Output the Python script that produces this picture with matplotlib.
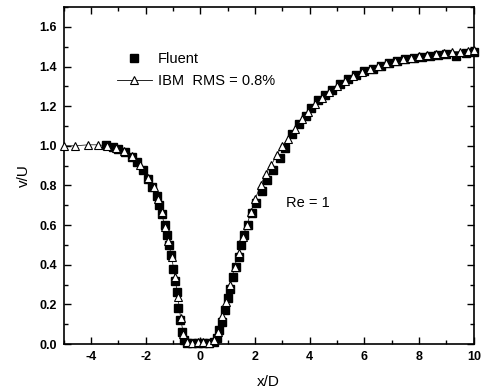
import matplotlib
matplotlib.use('Agg')
import matplotlib.pyplot as plt
from matplotlib.ticker import MultipleLocator
from matplotlib.lines import Line2D

plt.rcParams['font.family'] = ['Liberation Sans', 'DejaVu Sans']
plt.rcParams['axes.unicode_minus'] = False

# IBM results (open triangles)
ibm_x = [-5.0, -4.6, -4.1, -3.75, -3.4, -3.1, -2.8, -2.5, -2.2, -1.9, -1.7, -1.55,
         -1.42, -1.3, -1.18, -1.05, -0.93, -0.82, -0.72, -0.62, -0.5, -0.3, -0.1,
         0.1, 0.3, 0.5, 0.65, 0.8, 0.95, 1.1, 1.25, 1.4, 1.55, 1.7, 1.85, 2.0, 2.2,
         2.4, 2.6, 2.8, 3.0, 3.2, 3.45, 3.7, 3.95, 4.2, 4.45, 4.7, 5.0, 5.3, 5.6,
         5.9, 6.2, 6.5, 6.8, 7.1, 7.4, 7.7, 8.0, 8.3, 8.6, 8.9, 9.2, 9.5, 9.8, 10.0]
ibm_y = [1.00, 1.00, 1.005, 1.005, 1.00, 0.99, 0.975, 0.95, 0.905, 0.84, 0.79, 0.73,
         0.665, 0.59, 0.52, 0.44, 0.34, 0.235, 0.13, 0.05, 0.01, 0.005, 0.01,
         0.01, 0.005, 0.02, 0.06, 0.14, 0.21, 0.30, 0.39, 0.46, 0.54, 0.60, 0.665, 0.73, 0.80,
         0.86, 0.905, 0.955, 1.00, 1.035, 1.085, 1.135, 1.17, 1.21, 1.24, 1.27, 1.30, 1.325, 1.35,
         1.37, 1.39, 1.405, 1.42, 1.43, 1.44, 1.445, 1.455, 1.46, 1.465, 1.47, 1.475, 1.475, 1.48, 1.485]

# Fluent results (filled squares)
fluent_x = [-3.45, -3.2, -3.0, -2.75, -2.5, -2.3, -2.1, -1.9, -1.75, -1.6, -1.5, -1.4,
            -1.3, -1.22, -1.15, -1.08, -1.0, -0.94, -0.87, -0.8, -0.74, -0.68, -0.6,
            -0.5, -0.3, -0.1, 0.1, 0.3, 0.5, 0.6, 0.7, 0.8, 0.9, 1.0, 1.1, 1.2, 1.3,
            1.4, 1.5, 1.6, 1.75, 1.9, 2.05, 2.25, 2.45, 2.65, 2.9, 3.1, 3.35, 3.6, 3.85,
            4.05, 4.3, 4.55, 4.8, 5.1, 5.4, 5.7, 6.0, 6.3, 6.6, 6.9, 7.2, 7.5, 7.8, 8.1,
            8.4, 8.7, 9.0, 9.35, 9.7, 10.0]
fluent_y = [1.005, 0.995, 0.985, 0.97, 0.945, 0.92, 0.88, 0.835, 0.79, 0.745, 0.70, 0.655,
            0.60, 0.55, 0.50, 0.45, 0.38, 0.32, 0.26, 0.18, 0.12, 0.06, 0.02,
            0.005, 0.005, 0.005, 0.005, 0.005, 0.01, 0.03, 0.07, 0.11, 0.17, 0.23, 0.28, 0.34, 0.39,
            0.44, 0.50, 0.55, 0.60, 0.66, 0.71, 0.77, 0.83, 0.88, 0.94, 0.99, 1.06, 1.11, 1.15,
            1.19, 1.23, 1.255, 1.28, 1.31, 1.335, 1.355, 1.375, 1.39, 1.405, 1.42, 1.43, 1.44, 1.445, 1.45,
            1.455, 1.46, 1.465, 1.455, 1.47, 1.475]

fig = plt.figure(figsize=(4.84, 3.92), dpi=100)
ax = fig.add_axes([0.1314, 0.1224, 0.8476, 0.8596])

ax.plot(fluent_x, fluent_y, linestyle='none', marker='s', ms=5.5,
        color='black', clip_on=False, zorder=3)
ax.plot(ibm_x, ibm_y, '-', color='black', lw=0.5, marker='^', ms=6,
        mfc='white', mec='black', mew=0.8, clip_on=False, zorder=4)

ax.set_xlim(-5, 10)
ax.set_ylim(0, 1.7)
ax.xaxis.set_major_locator(MultipleLocator(2))
ax.xaxis.set_minor_locator(MultipleLocator(1))
ax.yaxis.set_major_locator(MultipleLocator(0.2))
ax.yaxis.set_minor_locator(MultipleLocator(0.1))
ax.yaxis.set_major_formatter(plt.FuncFormatter(lambda v, p: f'{v:.1f}'))

ax.tick_params(which='both', direction='in', top=True, right=True,
               labelsize=9, width=1.0)
ax.tick_params(which='major', length=5, pad=5)
ax.tick_params(which='minor', length=3)
for lab in ax.get_xticklabels() + ax.get_yticklabels():
    lab.set_fontweight('bold')
for s in ax.spines.values():
    s.set_linewidth(1.2)

ax.set_xlabel('x/D', fontsize=11, labelpad=9)
ax.set_ylabel('v/U', fontsize=11, labelpad=6)

ax.text(3.12, 0.71, 'Re = 1', fontsize=10.5, va='center', ha='left')

handles = [
    Line2D([], [], linestyle='none', marker='s', ms=5.5, color='black'),
    Line2D([], [], linestyle='-', lw=0.6, color='black', marker='^', ms=6,
           mfc='white', mec='black', mew=0.8),
]
ax.legend(handles, ['Fluent', 'IBM  RMS = 0.8%'], loc='upper left',
          bbox_to_anchor=(0.115, 0.885), frameon=False, fontsize=10.5,
          handlelength=2.4, handletextpad=0.45, labelspacing=0.55,
          borderaxespad=0)

fig.savefig('out.png', dpi=100)
